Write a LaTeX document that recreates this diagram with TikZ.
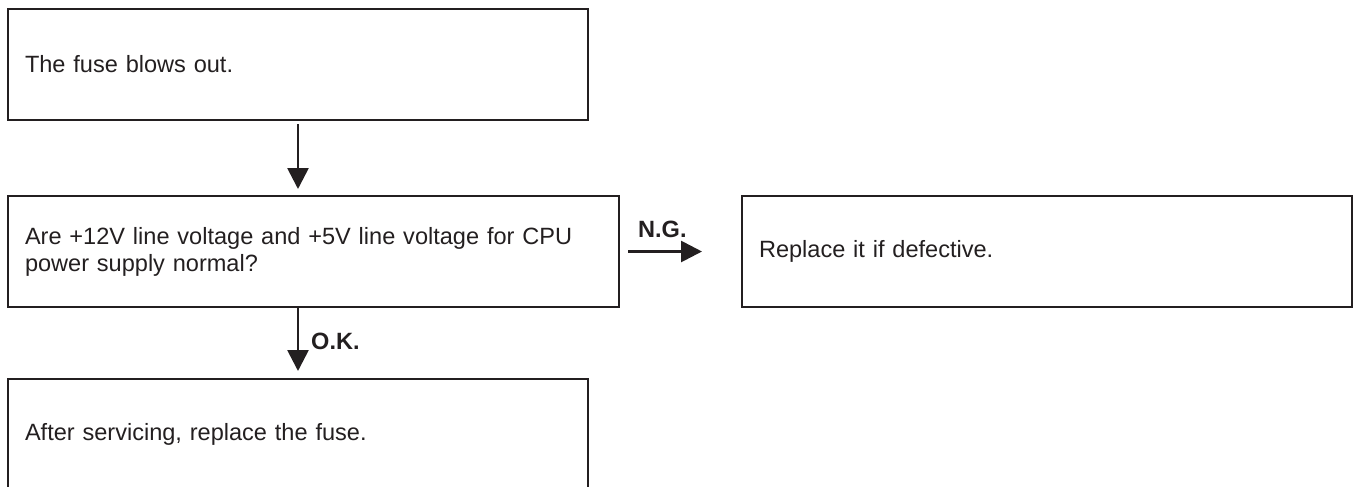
\documentclass[tikz,border=0pt]{standalone}
\usepackage{fontspec}
\setmainfont{Liberation Sans}
\usetikzlibrary{arrows.meta}
\definecolor{ink}{RGB}{35,31,32}

\begin{document}
\begin{tikzpicture}[
    stepbox/.style={draw=ink, line width=0.04cm, rectangle, minimum height=2.22cm,
        inner xsep=0.34cm, align=left, text=ink,
        font=\fontsize{13.4}{15.4}\selectfont},
    flow/.style={draw=ink, line width=0.055cm, -{Triangle[width=0.42cm,length=0.42cm]}},
    verdict/.style={font=\bfseries\fontsize{13.4}{15.4}\selectfont, text=ink}
]
    \useasboundingbox (0,0) rectangle (27.18,-9.72);
    \node[stepbox, text width=10.92cm] (blown) at (5.96,-1.29) {The fuse blows out.};
    \node[stepbox, text width=11.54cm] (check) at (6.27,-5.03)
        {Are +12V line voltage and +5V line voltage for CPU\\power supply normal?};
    \node[stepbox, text width=11.52cm] (repair) at (20.94,-5.02) {Replace it if defective.};
    \node[stepbox, text width=10.92cm] (refit) at (5.96,-8.69) {After servicing, replace the fuse.};
    \draw[flow, shorten <=0.06cm, shorten >=0.12cm] (blown.south) -- (blown.south |- check.north);
    \draw[flow, shorten <=0.16cm, shorten >=0.78cm] (check.east) -- (check.east -| repair.west)
        node[pos=0.35, above=0.14cm, verdict] {N.G.};
    \draw[flow, shorten >=0.14cm] (refit.north |- check.south) -- (refit.north)
        node[pos=0.47, right=0.12cm, verdict] {O.K.};
\end{tikzpicture}
\end{document}
